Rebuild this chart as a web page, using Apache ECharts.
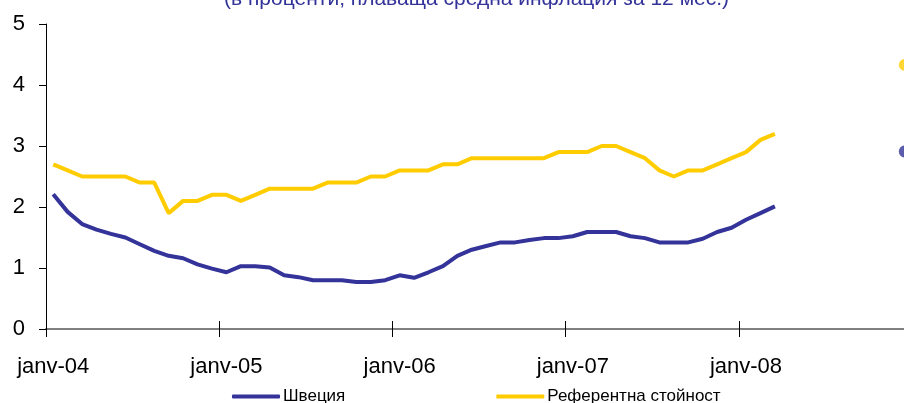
<!DOCTYPE html>
<html><head><meta charset="utf-8">
<script src="https://cdn.jsdelivr.net/npm/echarts@6/dist/echarts.min.js"></script>
<style>html,body{margin:0;padding:0;background:#fff;overflow:hidden}#c{width:904px;height:403px}</style>
</head><body><div id="c"></div>
<script>
const monthNames = ['janv','févr','mars','avr','mai','juin','juil','août','sept','oct','nov','déc'];
const years = ['04','05','06','07','08'];
const categories = [];
years.forEach(y => monthNames.forEach(m => categories.push(m + '-' + y)));

const titleText = '(в проценти; плаваща средна инфлация за 12 мес.)';
const seriesNames = ['Швеция', 'Референтна стойност'];

const sweden = [2.21,1.92,1.72,1.63,1.56,1.50,1.39,1.28,1.20,1.16,1.06,0.99,
  0.93,1.03,1.03,1.01,0.88,0.85,0.80,0.80,0.80,0.77,0.77,0.80,
  0.88,0.84,0.93,1.03,1.20,1.30,1.36,1.42,1.42,1.46,1.49,1.49,
  1.52,1.59,1.59,1.59,1.52,1.49,1.42,1.42,1.42,1.48,1.59,1.66,
  1.79,1.90,2.01];
const reference = [2.7,2.6,2.5,2.5,2.5,2.5,2.4,2.4,1.9,2.1,2.1,2.2,
  2.2,2.1,2.2,2.3,2.3,2.3,2.3,2.4,2.4,2.4,2.5,2.5,
  2.6,2.6,2.6,2.7,2.7,2.8,2.8,2.8,2.8,2.8,2.8,2.9,
  2.9,2.9,3.0,3.0,2.9,2.8,2.6,2.5,2.6,2.6,2.7,2.8,
  2.9,3.1,3.2];
const swedenPoint = ['déc-08', 2.91];
const referencePoint = ['déc-08', 4.33];
const yTicks = {min: 0, max: 5, interval: 1};

const blue = '#333399', yellow = '#FFCC00';
const font = 'Liberation Sans, Arial, sans-serif';
const yearTick = (i) => i % 12 === 0;

const chart = echarts.init(document.getElementById('c'), null, {renderer: 'canvas'});
chart.setOption({
  animation: false,
  backgroundColor: '#fff',
  textStyle: {fontFamily: font},
  title: {
    text: titleText, left: 219, top: -16,
    textStyle: {fontSize: 21, fontWeight: 'normal', color: blue, fontFamily: font}
  },
  legend: {
    data: seriesNames, left: 232, top: 388, itemWidth: 48, itemHeight: 4, itemGap: 151,
    icon: 'roundRect', padding: 0,
    textStyle: {fontSize: 17, color: '#000', fontFamily: font, padding: [0, 0, 0, -2]}
  },
  grid: {left: 46, top: 24, right: -8, height: 305, containLabel: false, outerBoundsMode: 'none'},
  xAxis: [{
    type: 'category', data: categories, boundaryGap: true,
    axisLine: {show: true, lineStyle: {color: '#808080', width: 2}},
    axisTick: {show: true, interval: (i) => yearTick(i), length: 8, lineStyle: {color: '#000', width: 1}},
    axisLabel: {interval: (i) => yearTick(i), fontSize: 22, color: '#000', margin: 27, fontFamily: font},
    splitLine: {show: false}
  }, {
    type: 'category', data: categories, boundaryGap: true, position: 'bottom',
    axisLine: {show: false},
    axisTick: {show: true, inside: true, interval: (i) => yearTick(i), length: 8, lineStyle: {color: '#000', width: 1}},
    axisLabel: {show: false}, splitLine: {show: false}
  }],
  yAxis: {
    type: 'value', min: yTicks.min, max: yTicks.max, interval: yTicks.interval,
    axisLine: {show: true, lineStyle: {color: '#000', width: 1}},
    axisTick: {show: true, length: 7, lineStyle: {color: '#000'}},
    axisLabel: {fontSize: 22, color: '#000', margin: 21, fontFamily: font},
    splitLine: {show: false}
  },
  series: [
    {name: seriesNames[0], type: 'line', data: sweden, symbol: 'none', color: blue,
     lineStyle: {color: blue, width: 4}, z: 3},
    {name: seriesNames[1], type: 'line', data: reference, symbol: 'none', color: yellow,
     lineStyle: {color: yellow, width: 4}, z: 2},
    {name: 'dotSweden', type: 'scatter', data: [swedenPoint], symbolSize: 12, itemStyle: {color: blue}},
    {name: 'dotReference', type: 'scatter', data: [referencePoint], symbolSize: 12, itemStyle: {color: yellow}}
  ]
});
</script></body></html>
